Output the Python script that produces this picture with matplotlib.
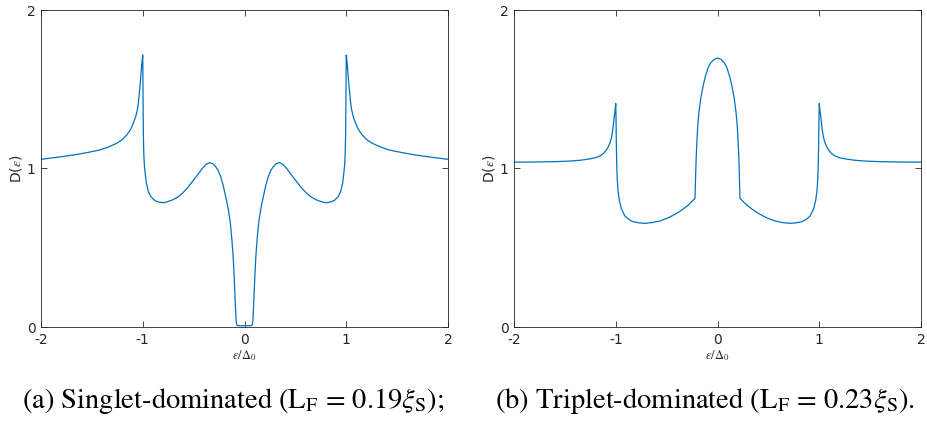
import matplotlib
matplotlib.use("Agg")
import matplotlib.pyplot as plt

plt.rcParams["mathtext.fontset"] = "stix"

# Density of states, singlet-dominated junction (energy in units of the gap)
eps_singlet = [
    -2.00, -1.85, -1.683, -1.55, -1.42, -1.34, -1.256, -1.20, -1.158, -1.12,
    -1.093, -1.07, -1.053, -1.042, -1.034, -1.025, -1.017, -1.008, -1.000, -0.997,
    -0.994, -0.99, -0.985, -0.978, -0.965, -0.945, -0.92, -0.88, -0.84, -0.798,
    -0.76, -0.71, -0.66, -0.611, -0.56, -0.513, -0.46, -0.414, -0.375, -0.342,
    -0.31, -0.283, -0.26, -0.234, -0.21, -0.185, -0.16, -0.14, -0.125, -0.112,
    -0.103, -0.095, -0.087, -0.082, -0.077, -0.07, -0.06, 0.00,
    0.06, 0.07, 0.077, 0.082, 0.087, 0.095, 0.103,
    0.112, 0.125, 0.14, 0.16, 0.185, 0.21, 0.234, 0.26, 0.283, 0.31,
    0.342, 0.375, 0.414, 0.46, 0.513, 0.56, 0.611, 0.66, 0.71, 0.76,
    0.798, 0.84, 0.88, 0.92, 0.945, 0.965, 0.978, 0.985, 0.99, 0.994,
    0.997, 1.000, 1.008, 1.017, 1.025, 1.034, 1.042, 1.053, 1.07, 1.093,
    1.12, 1.158, 1.20, 1.256, 1.34, 1.42, 1.55, 1.683, 1.85, 2.00,
]
dos_singlet = [
    1.058, 1.070, 1.085, 1.100, 1.117, 1.135, 1.159, 1.183, 1.211, 1.245,
    1.285, 1.325, 1.369, 1.420, 1.474, 1.535, 1.600, 1.670, 1.715, 1.450,
    1.220, 1.100, 1.030, 0.980, 0.910, 0.854, 0.822, 0.797, 0.788, 0.784,
    0.790, 0.801, 0.818, 0.843, 0.878, 0.917, 0.960, 1.001, 1.027, 1.037,
    1.030, 1.011, 0.990, 0.948, 0.895, 0.822, 0.745, 0.660, 0.560, 0.450,
    0.340, 0.220, 0.100, 0.040, 0.015, 0.009, 0.008, 0.008,
    0.008, 0.009, 0.015, 0.040, 0.100, 0.220, 0.340,
    0.450, 0.560, 0.660, 0.745, 0.822, 0.895, 0.948, 0.990, 1.011, 1.030,
    1.037, 1.027, 1.001, 0.960, 0.917, 0.878, 0.843, 0.818, 0.801, 0.790,
    0.784, 0.788, 0.797, 0.822, 0.854, 0.910, 0.980, 1.030, 1.100, 1.220,
    1.450, 1.715, 1.670, 1.600, 1.535, 1.474, 1.420, 1.369, 1.325, 1.285,
    1.245, 1.211, 1.183, 1.159, 1.135, 1.117, 1.100, 1.085, 1.070, 1.058,
]

# Density of states, triplet-dominated junction
eps_triplet = [
    -2.00, -1.80, -1.60, -1.45, -1.35, -1.26, -1.20, -1.155, -1.12, -1.09,
    -1.073, -1.055, -1.04, -1.028, -1.018, -1.008, -1.000, -0.997, -0.994, -0.99,
    -0.985, -0.978, -0.965, -0.945, -0.91, -0.87, -0.827, -0.77, -0.713, -0.64,
    -0.565, -0.48, -0.401, -0.34, -0.287, -0.25, -0.221, -0.216, -0.21, -0.203,
    -0.195, -0.183, -0.165, -0.145, -0.12, -0.09, -0.065, -0.035, 0.00,
    0.035, 0.065, 0.09, 0.12, 0.145, 0.165, 0.183, 0.195,
    0.203, 0.21, 0.216, 0.221, 0.25, 0.287, 0.34, 0.401, 0.48, 0.565,
    0.64, 0.713, 0.77, 0.827, 0.87, 0.91, 0.945, 0.965, 0.978, 0.985,
    0.99, 0.994, 0.997, 1.000, 1.008, 1.018, 1.028, 1.04, 1.055, 1.073,
    1.09, 1.12, 1.155, 1.20, 1.26, 1.35, 1.45, 1.60, 1.80, 2.00,
]
dos_triplet = [
    1.040, 1.041, 1.043, 1.047, 1.052, 1.060, 1.068, 1.079, 1.095, 1.118,
    1.138, 1.165, 1.200, 1.250, 1.310, 1.360, 1.410, 1.300, 1.150, 1.020,
    0.930, 0.860, 0.800, 0.745, 0.700, 0.678, 0.664, 0.657, 0.654, 0.659,
    0.669, 0.690, 0.717, 0.743, 0.770, 0.793, 0.812, 0.930, 1.060, 1.160,
    1.260, 1.350, 1.440, 1.510, 1.580, 1.640, 1.668, 1.688, 1.697,
    1.688, 1.668, 1.640, 1.580, 1.510, 1.440, 1.350, 1.260,
    1.160, 1.060, 0.930, 0.812, 0.793, 0.770, 0.743, 0.717, 0.690, 0.669,
    0.659, 0.654, 0.657, 0.664, 0.678, 0.700, 0.745, 0.800, 0.860, 0.930,
    1.020, 1.150, 1.300, 1.410, 1.360, 1.310, 1.250, 1.200, 1.165, 1.138,
    1.118, 1.095, 1.079, 1.068, 1.060, 1.052, 1.047, 1.043, 1.041, 1.040,
]

x_ticks = [-2, -1, 0, 1, 2]
x_tick_labels = ["-2", "-1", "0", "1", "2"]
y_ticks = [0, 1, 2]
y_tick_labels = ["0", "1", "2"]

captions = [
    r"(a) Singlet-dominated (L$_\mathrm{F}$ = 0.19$\xi_\mathrm{S}$);",
    r"(b) Triplet-dominated (L$_\mathrm{F}$ = 0.23$\xi_\mathrm{S}$).",
]

line_color = "#0072BD"
axis_color = "#262626"

fig = plt.figure(figsize=(9.27, 4.23), dpi=100)
W, H = 927, 423
boxes = [(41, 10, 407, 317), (514, 10, 407, 317)]
series = [(eps_singlet, dos_singlet), (eps_triplet, dos_triplet)]
caption_x = [233, 705]

for (left, top, w, h), (xs, ys), cap, cx in zip(boxes, series, captions, caption_x):
    ax = fig.add_axes([left / W, 1 - (top + h) / H, w / W, h / H])
    ax.plot(xs, ys, color=line_color, lw=0.9)
    ax.set_xlim(-2, 2)
    ax.set_ylim(0, 2)
    ax.set_xticks(x_ticks, x_tick_labels)
    ax.set_yticks(y_ticks, y_tick_labels)
    ax.tick_params(direction="in", length=4, width=0.6, colors=axis_color,
                   labelsize=10, top=True, right=True, pad=4)
    for s in ax.spines.values():
        s.set_color(axis_color)
        s.set_linewidth(0.6)
    ax.set_ylabel(r"D($\epsilon$)", fontsize=10, color=axis_color, labelpad=2)
    ax.set_xlabel(r"$\epsilon/\Delta_0$", fontsize=9, color=axis_color, labelpad=1)
    fig.text(cx / W, 1 - 408 / H, cap, ha="center", va="baseline",
             fontsize=20.5, family="STIXGeneral")

fig.savefig("out.png", dpi=100)
